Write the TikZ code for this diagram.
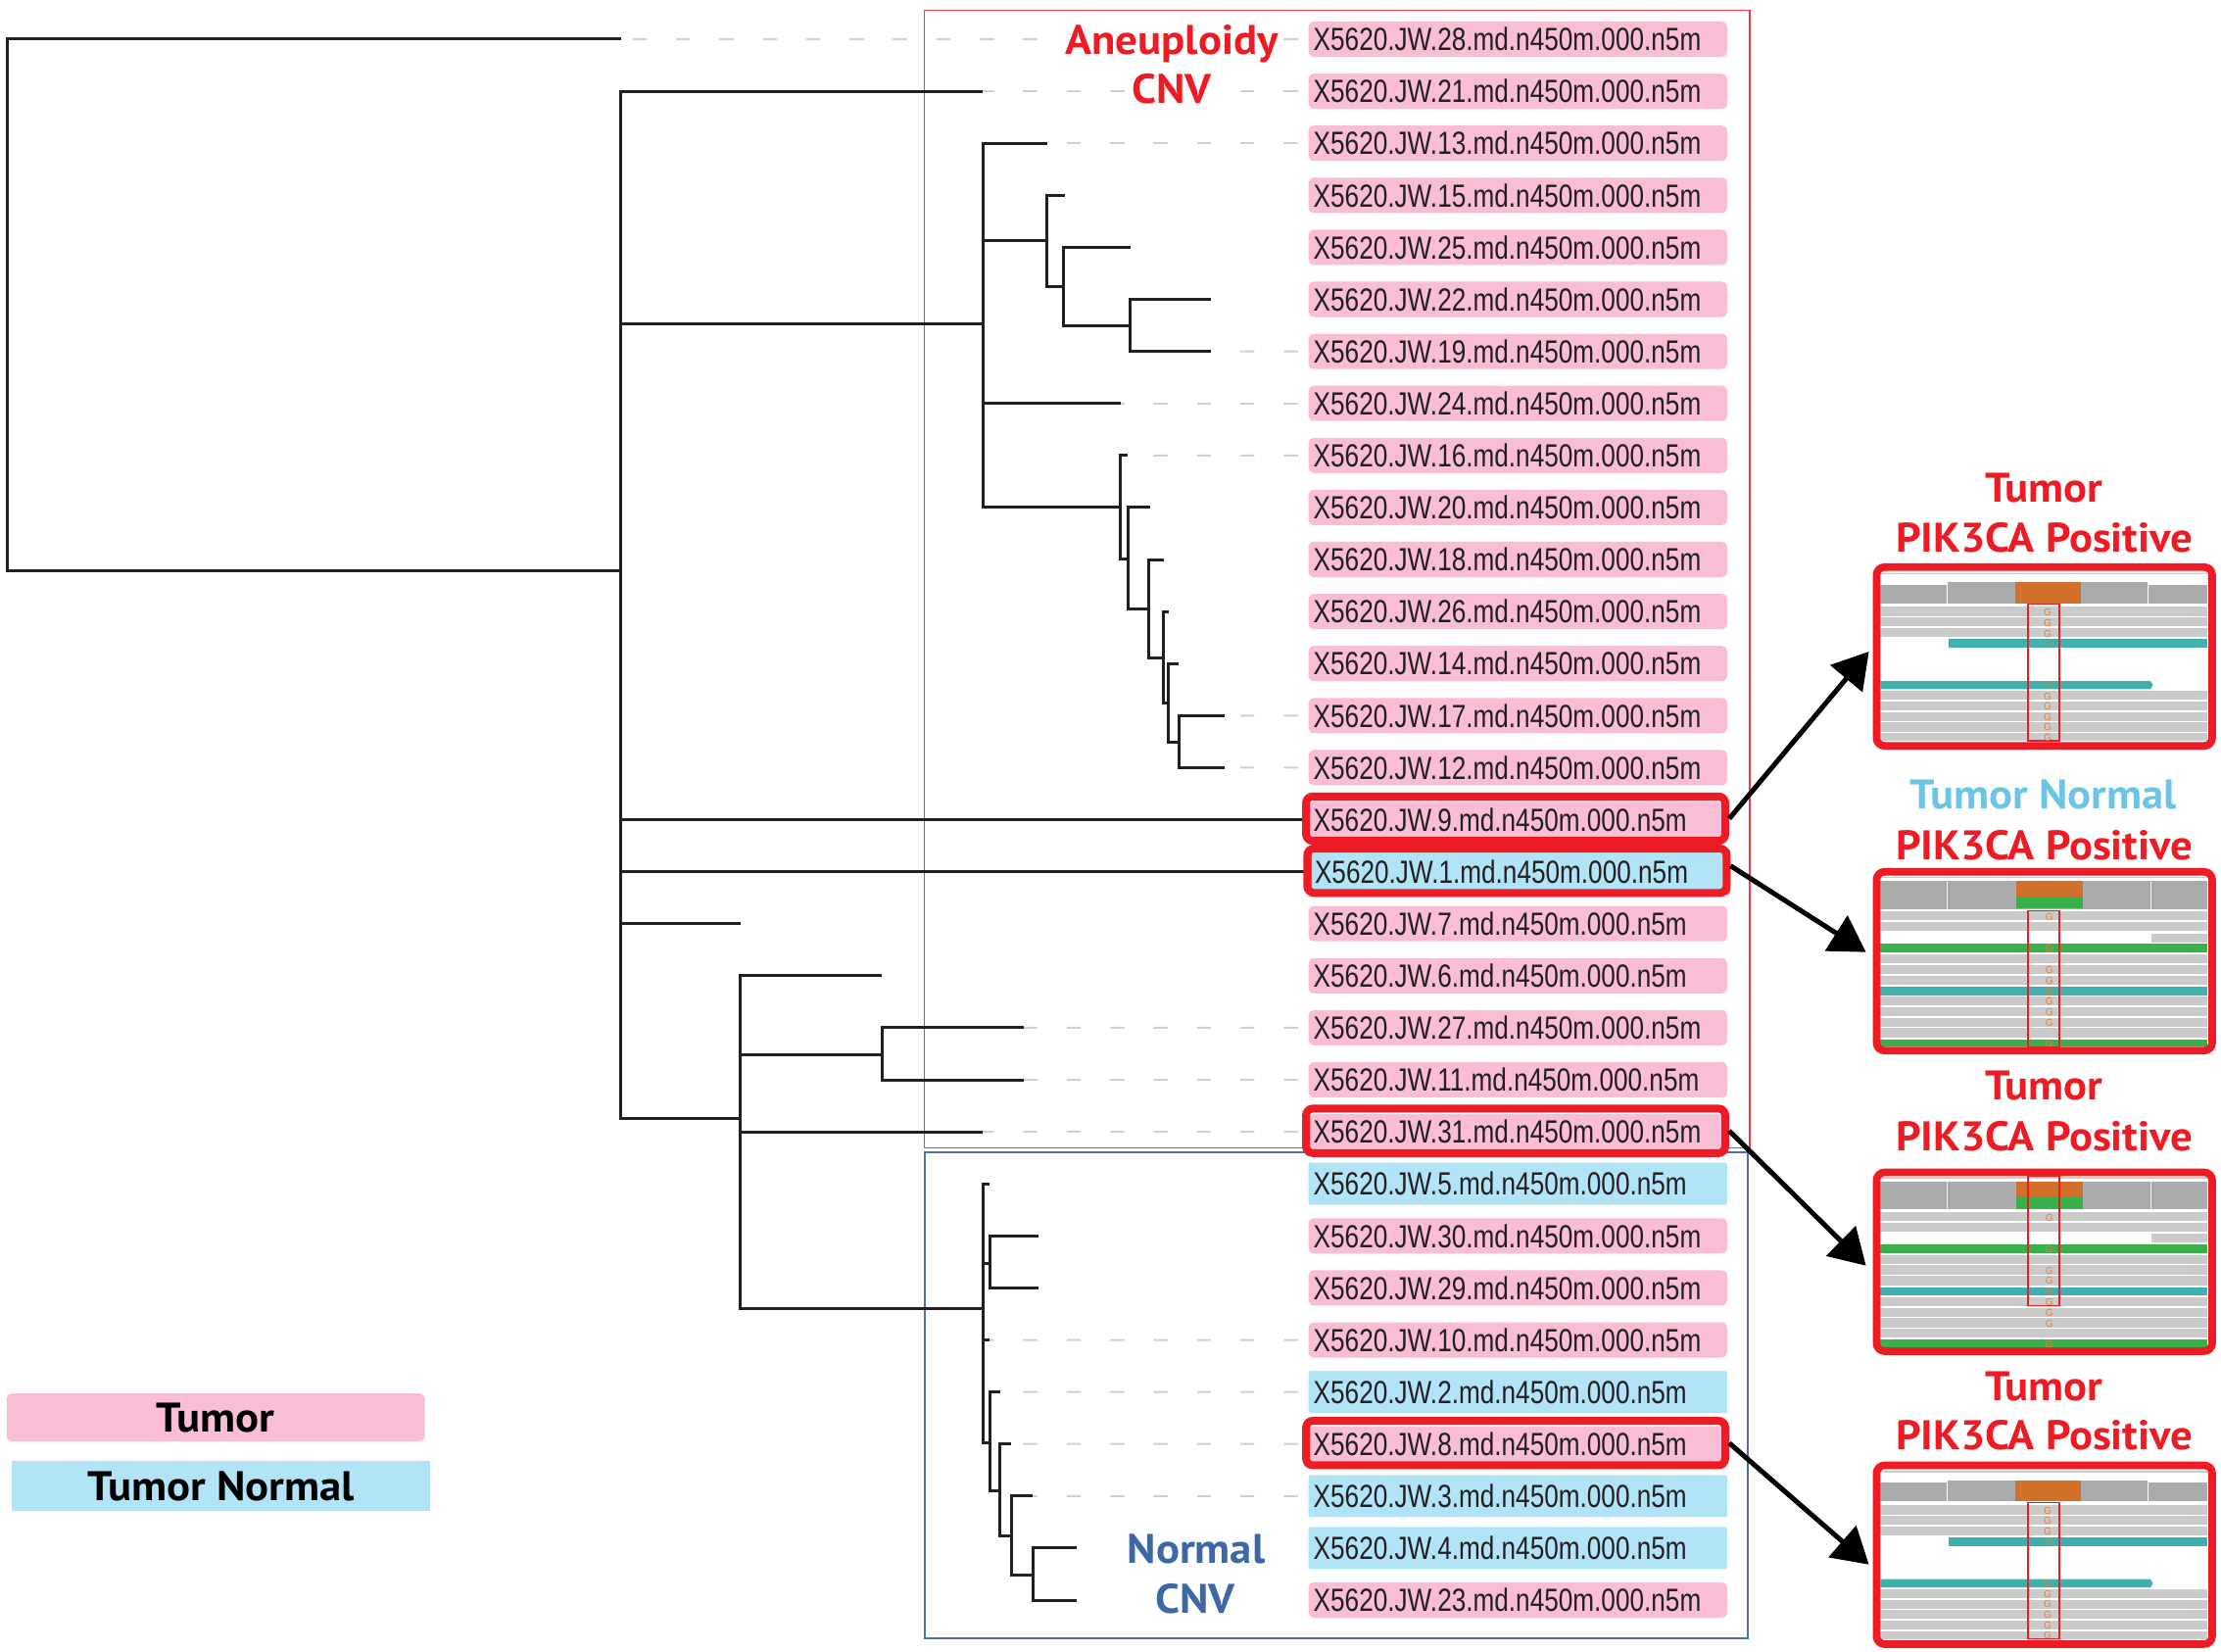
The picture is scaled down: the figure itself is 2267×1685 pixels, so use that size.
\documentclass[tikz,border=0pt]{standalone}
\usepackage{fontspec}
\usetikzlibrary{arrows.meta}
\newfontfamily\labfont[FakeStretch=0.80]{Liberation Sans}
\newfontfamily\ttlfont[FakeStretch=1.06]{PT Sans}
\newfontfamily\gfont{Liberation Sans}
\definecolor{tumpink}{HTML}{F9BDD5}
\definecolor{normblue}{HTML}{B2E4F8}
\definecolor{hired}{HTML}{ED1C24}
\definecolor{framered}{HTML}{EE3A43}
\definecolor{frameblue}{HTML}{4A70AD}
\definecolor{cnvblue}{HTML}{3D68A5}
\definecolor{tnblue}{HTML}{6CC5E4}
\definecolor{treeblack}{HTML}{231F20}
\definecolor{dashgray}{HTML}{D0D0D0}
\definecolor{covgray}{HTML}{A9ABAC}
\definecolor{readgray}{HTML}{CBCBCB}
\definecolor{igvorange}{HTML}{D27029}
\definecolor{igvgreen}{HTML}{39B14B}
\definecolor{igvteal}{HTML}{3FB0AD}
\definecolor{gorange}{HTML}{E57E3A}
\definecolor{brownrim}{HTML}{B7725E}

\newcommand\igvpanelA[2]{%
\begin{scope}[shift={(1911.7,#2)}]
 \fill[white] (7.6,7.7) rectangle (341.6,181.7);
 \draw[readgray, line width=0.015cm] (7.6,10.3) -- (341.6,10.3);
 \fill[covgray] (7.6,21.7) rectangle (75.6,40.7);
 \fill[covgray] (75.6,19) rectangle (280.6,40.7);
 \fill[covgray] (280.6,21.7) rectangle (341.6,40.7);
 \fill[igvorange] (145,19) rectangle (212.3,40.7);
 \draw[white, line width=0.01cm] (75.6,19) -- (75.6,40.7) (280.6,19) -- (280.6,40.7);
 \foreach \ya/\yb in {44.3/54,55.3/64.3,66/75,130/139.3,141/150,151.7/160.7,162.3/171.7,173.3/181}
   \fill[readgray] (7.6,\ya) rectangle (341.6,\yb);
 \fill[igvteal] (77.3,77.3) rectangle (341.6,86);
 \fill[igvteal] (7.6,120) -- (283.3,120) -- (285.8,124.2) -- (283.3,128.3) -- (7.6,128.3) -- cycle;
 \draw[hired, line width=0.012cm] (158.3,41.7) rectangle (190.3,181);
 \foreach \gy [count=\k] in {50,60.7,71.7,81.7,124.3,135.7,145.7,156.7,167.3,177.7}
   \node[gtxt] (#1g\k) at (178.3,\gy) {G};
\end{scope}
\node[panelbox] (#1) at (2086.7,#2+95) {};
}

\newcommand\igvpanelB[4]{%
\begin{scope}[shift={(1911.7,#2)}]
 \fill[white] (7.6,7.3) rectangle (341.6,182.3);
 \draw[readgray, line width=0.015cm] (7.6,9.5) -- (341.6,9.5);
 \fill[covgray] (7.6,13.3) rectangle (341.6,41.7);
 \fill[igvorange] (146.6,13.3) rectangle (214,29);
 \fill[igvgreen] (146.6,29) rectangle (214,41.3);
 \draw[white!85!gray, line width=0.01cm] (75.6,13.3) -- (75.6,41.7) (283.9,13.3) -- (283.9,41.7);
 \foreach \ya/\yb in {44/53.3,55/64,88/97.3,98.7/108,109.7/119,131/140,142/151.3,152.7/162,163.3/172.7}
   \fill[readgray] (7.6,\ya) rectangle (341.6,\yb);
 \fill[readgray] (284,66.7) rectangle (341.6,75.7);
 \fill[igvgreen] (7.6,77.3) rectangle (341.6,86.3);
 \fill[igvgreen] (7.6,174.7) rectangle (341.6,182.3);
 \fill[igvteal] (7.6,121) rectangle (341.6,129.7);
 \draw[hired, line width=0.012cm] (158.3,#3) rectangle (190.3,#4);
 \foreach \gy [count=\k] in {50,82.3,104,114.7,125.7,136.3,147,158,179}
   \node[gtxt] (#1g\k) at (180,\gy) {G};
\end{scope}
\node[panelbox] (#1) at (2086.7,#2+95) {};
}

\begin{document}
\begin{tikzpicture}[x=0.01cm,y=-0.01cm,
  tree/.style={draw=treeblack, line width=0.03cm},
  dashln/.style={draw=dashgray, line width=0.02cm, dash pattern=on 0.144cm off 0.299cm, dash phase=0.341cm},
  labbox/.style={anchor=west, text width=4.17cm, inner xsep=0.05cm, inner ysep=0pt,
     text height=6.66pt, text depth=0pt, align=left,
     font=\labfont\fontsize{9.3}{11}\selectfont, text=treeblack},
  tum/.style={labbox, fill=tumpink, rounded corners=0.05cm, minimum height=0.36cm},
  nor/.style={labbox, fill=normblue, rounded corners=0.02cm, minimum height=0.43cm},
  hlbox/.style={draw=hired, line width=0.08cm, rounded corners=0.07cm,
     minimum width=4.277cm, minimum height=0.454cm, inner sep=0pt},
  ttl/.style={font=\ttlfont\bfseries\fontsize{12}{14}\selectfont, text height=8.4pt, text depth=0pt, inner sep=0pt},
  legtxt/.style={font=\ttlfont\bfseries\fontsize{12}{14}\selectfont, text height=8.4pt, text depth=0pt, inner sep=0pt, text=black},
  arr/.style={draw=black, line width=0.05cm, -{Triangle[length=0.36cm,width=0.42cm]}},
  panelbox/.style={draw=hired, line width=0.077cm, rounded corners=0.08cm,
     minimum width=3.423cm, minimum height=1.823cm, inner sep=0pt},
  gtxt/.style={font=\gfont\fontsize{2.9}{3}\selectfont, text=gorange, inner sep=0pt}
]
\useasboundingbox (0,0) rectangle (2267,1685);

% cluster frames
\draw[framered, line width=0.015cm] (943.5,10.7) rectangle (1785.8,1171.6);
\draw[frameblue, line width=0.02cm] (944,1175.7) rectangle (1784,1672);

% leaf labels
\foreach \n/\i/\s in {28/0/tum,21/1/tum,13/2/tum,15/3/tum,25/4/tum,22/5/tum,19/6/tum,24/7/tum,
  16/8/tum,20/9/tum,18/10/tum,26/11/tum,14/12/tum,17/13/tum,12/14/tum,9/15/tum,7/17/tum,
  6/18/tum,27/19/tum,11/20/tum,31/21/tum,5/22/nor,30/23/tum,29/24/tum,10/25/tum,2/26/nor,
  8/27/tum,3/28/nor,4/29/nor,23/30/tum}
  \node[\s] (lab\n) at (1335,40+53.1*\i) {X5620.JW.\n.md.n450m.000.n5m};
\node[nor, draw=brownrim, line width=0.04cm] (lab1) at (1335,889.6) {X5620.JW.1.md.n450m.000.n5m};

% leaf tips
\coordinate (t28) at (633.5,40);
\coordinate (t21) at (1003,93.1);
\coordinate (t13) at (1069,146.2);
\coordinate (t15) at (1086.6,199.3);
\coordinate (t25) at (1153.7,252.4);
\coordinate (t22) at (1236,305.5);
\coordinate (t19) at (1236,358.6);
\coordinate (t24) at (1144,411.7);
\coordinate (t16) at (1151,464.8);
\coordinate (t20) at (1174,517.9);
\coordinate (t18) at (1188,571);
\coordinate (t26) at (1193,624.1);
\coordinate (t14) at (1203,677.2);
\coordinate (t17) at (1250,730.3);
\coordinate (t12) at (1250,783.4);
\coordinate (t7) at (755.5,942.7);
\coordinate (t6) at (900,995.8);
\coordinate (t27) at (1045,1048.9);
\coordinate (t11) at (1045,1102);
\coordinate (t31) at (1003,1155.1);
\coordinate (t5) at (1010,1208.2);
\coordinate (t30) at (1059.6,1261.3);
\coordinate (t29) at (1059.6,1314.4);
\coordinate (t10) at (1010,1367.5);
\coordinate (t2) at (1020.5,1420.6);
\coordinate (t8) at (1032,1473.7);
\coordinate (t3) at (1054,1526.8);
\coordinate (t4) at (1099,1579.9);
\coordinate (t23) at (1099,1633);

% internal nodes
\coordinate (root) at (7.7,311);
\coordinate (nA) at (633.5,582.5);
\coordinate (nB) at (1003,330);
\coordinate (nF) at (1068,245.3);
\coordinate (nG) at (1085.5,292.8);
\coordinate (nH) at (1153,332);
\coordinate (nI) at (1143,517.8);
\coordinate (nK) at (1151,570);
\coordinate (nL) at (1172.7,621);
\coordinate (nM) at (1187,671.7);
\coordinate (nN) at (1192.8,717.7);
\coordinate (nO) at (1203,757);
\coordinate (nC) at (755,1141);
\coordinate (nD) at (900,1076);
\coordinate (nE) at (1003,1335);
\coordinate (nP) at (1010,1289);
\coordinate (nQ) at (1010,1472.4);
\coordinate (nR) at (1020.5,1521.6);
\coordinate (nS) at (1032,1567.5);
\coordinate (nT) at (1054,1607.5);

% dashed leaders
\foreach \n in {28,21,13,19,24,16,17,12,27,11,31,10,2,8,3}
  \draw[dashln] (lab\n.west) -- (t\n);

% tree
\draw[tree] (root) |- (t28);  \draw[tree] (root) |- (nA);
\draw[tree] (nA) |- (t21);  \draw[tree] (nA) |- (nB);
\draw[tree] (nA) |- (lab9.west);  \draw[tree] (nA) |- (lab1.west);
\draw[tree] (nA) |- (t7);  \draw[tree] (nA) |- (nC);
\draw[tree] (nB) |- (t13);  \draw[tree] (nB) |- (nF);
\draw[tree] (nB) |- (t24);  \draw[tree] (nB) |- (nI);
\draw[tree] (nF) |- (t15);  \draw[tree] (nF) |- (nG);
\draw[tree] (nG) |- (t25);  \draw[tree] (nG) |- (nH);
\draw[tree] (nH) |- (t22);  \draw[tree] (nH) |- (t19);
\draw[tree] (nI) |- (t16);  \draw[tree] (nI) |- (nK);
\draw[tree] (nK) |- (t20);  \draw[tree] (nK) |- (nL);
\draw[tree] (nL) |- (t18);  \draw[tree] (nL) |- (nM);
\draw[tree] (nM) |- (t26);  \draw[tree] (nM) |- (nN);
\draw[tree] (nN) |- (t14);  \draw[tree] (nN) |- (nO);
\draw[tree] (nO) |- (t17);  \draw[tree] (nO) |- (t12);
\draw[tree] (nC) |- (t6);  \draw[tree] (nC) |- (nD);
\draw[tree] (nC) |- (t31);  \draw[tree] (nC) |- (nE);
\draw[tree] (nD) |- (t27);  \draw[tree] (nD) |- (t11);
\draw[tree] (nE) |- (t5);  \draw[tree] (nE) |- (nP);
\draw[tree] (nE) |- (t10);  \draw[tree] (nE) |- (nQ);
\draw[tree] (nP) |- (t30);  \draw[tree] (nP) |- (t29);
\draw[tree] (nQ) |- (t2);  \draw[tree] (nQ) |- (nR);
\draw[tree] (nR) |- (t8);  \draw[tree] (nR) |- (nS);
\draw[tree] (nS) |- (t3);  \draw[tree] (nS) |- (nT);
\draw[tree] (nT) |- (t4);  \draw[tree] (nT) |- (t23);

% highlighted samples
\foreach \n in {9,1,31,8}
  \node[hlbox] (hl\n) at ([xshift=-0.023cm,yshift=0.01cm]lab\n.center) {};

% cluster titles
\node[ttl, text=hired, fill=white, inner sep=0.05cm] (aneu) at (1196,41) {Aneuploidy};
\node[ttl, text=hired, fill=white, inner sep=0.05cm] (cnvA) at (1196,90.9) {CNV};
\node[ttl, text=cnvblue, fill=white, inner sep=0.05cm] (norm) at (1221,1580.4) {Normal};
\node[ttl, text=cnvblue, fill=white, inner sep=0.05cm] (cnvN) at (1220,1632) {CNV};

% legend
\node[legtxt, fill=tumpink, rounded corners=0.06cm, minimum width=4.265cm, minimum height=0.49cm] (legT) at (220.2,1446.5) {Tumor};
\node[legtxt, fill=normblue, minimum width=4.27cm, minimum height=0.515cm] (legN) at (225.5,1516.7) {Tumor Normal};

% IGV panels
\igvpanelA{p1}{575}
\igvpanelB{p2}{886}{43.3}{182.3}
\igvpanelB{p3}{1192.7}{7.3}{140}
\igvpanelA{p4}{1491.7}

% panel titles
\node[ttl, text=hired] (p1a) at (2086.3,498) {Tumor};
\node[ttl, text=hired] (p1b) at (2086.7,549) {PIK3CA Positive};
\node[ttl, text=tnblue] (p2a) at (2085.5,811) {Tumor Normal};
\node[ttl, text=hired] (p2b) at (2086.7,863) {PIK3CA Positive};
\node[ttl, text=hired] (p3a) at (2086.3,1108) {Tumor};
\node[ttl, text=hired] (p3b) at (2086.7,1160) {PIK3CA Positive};
\node[ttl, text=hired] (p4a) at (2086.3,1415) {Tumor};
\node[ttl, text=hired] (p4b) at (2086.7,1465) {PIK3CA Positive};

% arrows
\draw[arr] (hl9.east) -- ([xshift=-0.04cm,yshift=0.05cm]p1.west);
\draw[arr] ([yshift=0.05cm]hl1.east) -- ([xshift=-0.07cm,yshift=0.093cm]p2.west);
\draw[arr] (hl31.east) -- ([xshift=-0.07cm,yshift=-0.04cm]p3.west);
\draw[arr] (hl8.east) -- ([xshift=-0.04cm,yshift=-0.1cm]p4.west);
\end{tikzpicture}
\end{document}
